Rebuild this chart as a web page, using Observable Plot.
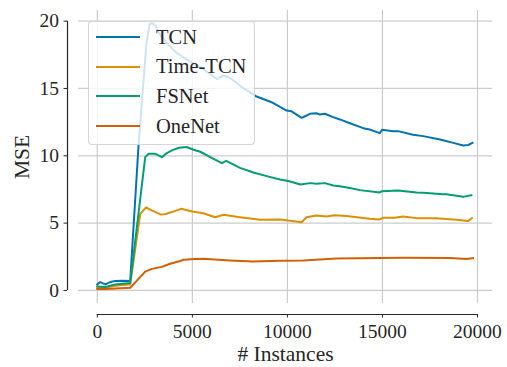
<!DOCTYPE html>
<html>
<head>
<meta charset="utf-8">
<script src="https://cdn.jsdelivr.net/npm/d3@7"></script>
<script src="https://cdn.jsdelivr.net/npm/@observablehq/plot@0.6"></script>
<style>
  html, body { margin: 0; padding: 0; background: #ffffff; }
  #chart { position: relative; width: 507px; height: 367px; font-family: "Liberation Serif", "Times New Roman", Tinos, Times, "DejaVu Serif", serif; }
  #chart svg text { font-family: "Liberation Serif", "Times New Roman", Tinos, Times, "DejaVu Serif", serif; }
  #legend {
    position: absolute; left: 88px; top: 21px; width: 167px; height: 124px;
    background: rgba(255,255,255,0.8); border: 1px solid rgba(204,204,204,0.8);
    border-radius: 4px; box-sizing: border-box;
  }
  .row { position: absolute; left: 0; height: 30px; display: flex; align-items: center; }
  .swatch { width: 44px; height: 0; border-top: 2px solid; margin-left: 7px; margin-right: 16px; }
  .name { font-size: 20.5px; color: #262626; line-height: 1; }
</style>
</head>
<body>
<div id="chart"></div>
<script>
// Online forecasting error (MSE) as the number of seen instances grows
const models = ["TCN", "Time-TCN", "FSNet", "OneNet"];
const colors = ["#0173b2", "#de8f05", "#029e73", "#d55e00"];

const tcnX = [0, 150, 420, 680, 940, 1300, 1730, 2170, 2580, 2750, 2900, 3050, 3300, 3700, 4200, 4900, 5500, 6000, 6300, 6600, 6900, 7200, 7700, 8380, 9170, 9960, 10220, 10750, 11010, 11180, 11530, 11710, 11970, 12410, 12760, 13290, 13990, 14330, 14860, 14980, 15560, 15820, 16610, 17140, 18030, 18730, 19250, 19510, 19740];
const tcnY = [0.45, 0.62, 0.45, 0.62, 0.7, 0.72, 0.7, 10.8, 18.3, 19.8, 19.85, 19.7, 19.0, 18.3, 17.6, 17.0, 16.5, 16.0, 15.7, 15.95, 15.85, 15.55, 15.0, 14.4, 13.98, 13.36, 13.3, 12.82, 12.99, 13.12, 13.16, 13.06, 13.12, 12.87, 12.7, 12.42, 12.05, 11.95, 11.68, 11.93, 11.83, 11.83, 11.56, 11.46, 11.21, 10.96, 10.76, 10.8, 10.96];

const timeTcnX = [0, 420, 940, 1300, 1730, 2260, 2560, 2870, 3350, 3600, 3920, 4400, 5000, 5580, 6200, 6630, 7510, 8560, 9610, 10750, 11010, 11530, 12060, 12490, 13110, 14330, 14860, 15040, 15650, 16090, 16790, 17840, 18890, 19500, 19710];
const timeTcnY = [0.2, 0.2, 0.35, 0.4, 0.45, 5.69, 6.16, 5.94, 5.63, 5.68, 5.82, 6.06, 5.86, 5.73, 5.44, 5.62, 5.44, 5.25, 5.27, 5.07, 5.44, 5.57, 5.49, 5.59, 5.52, 5.32, 5.27, 5.4, 5.4, 5.49, 5.37, 5.37, 5.25, 5.15, 5.37];

const fsnetX = [0, 420, 940, 1300, 1730, 2520, 2700, 3050, 3400, 3660, 3920, 4300, 4700, 5060, 5420, 5940, 6550, 6780, 7510, 8210, 8910, 9610, 10050, 10680, 11200, 11530, 11970, 12410, 12760, 13290, 13810, 14860, 14980, 15820, 16790, 17140, 18190, 18370, 19240, 19680];
const fsnetY = [0.3, 0.25, 0.45, 0.5, 0.55, 9.9, 10.15, 10.15, 9.9, 10.2, 10.4, 10.6, 10.65, 10.45, 10.3, 9.9, 9.45, 9.62, 9.1, 8.76, 8.49, 8.24, 8.13, 7.87, 7.97, 7.92, 7.97, 7.8, 7.74, 7.6, 7.45, 7.28, 7.37, 7.42, 7.27, 7.25, 7.14, 7.15, 6.95, 7.08];

const oneNetX = [0, 420, 940, 1730, 2520, 2870, 3390, 3830, 4360, 4530, 5150, 5580, 6980, 8210, 9610, 10840, 12580, 16090, 18560, 19420, 19760];
const oneNetY = [0.1, 0.1, 0.15, 0.2, 1.4, 1.6, 1.75, 1.98, 2.18, 2.28, 2.33, 2.35, 2.23, 2.15, 2.2, 2.23, 2.38, 2.43, 2.4, 2.33, 2.4];

const xTicks = [0, 5000, 10000, 15000, 20000];
const yTicks = [0, 5, 10, 15, 20];

const seriesX = [tcnX, timeTcnX, fsnetX, oneNetX];
const seriesY = [tcnY, timeTcnY, fsnetY, oneNetY];
const rows = models.flatMap((model, k) =>
  seriesX[k].map((x, i) => ({model, instances: x, mse: seriesY[k][i]})));

const xDomain = [-990, 20790];
const yDomain = [-0.97, 20.79];
const ink = "#262626";
const serif = "'Liberation Serif', 'Times New Roman', Tinos, Times, 'DejaVu Serif', serif";
const gridStyle = {stroke: "#cccccc", strokeOpacity: 1, strokeWidth: 1.2};

const chart = Plot.plot({
  width: 507,
  height: 367,
  marginLeft: 78,
  marginRight: 15,
  marginTop: 10,
  marginBottom: 64,
  style: {fontFamily: serif, background: "#ffffff", color: ink},
  x: {domain: xDomain},
  y: {domain: yDomain},
  color: {domain: models, range: colors},
  marks: [
    Plot.gridX(xTicks, gridStyle),
    Plot.gridY(yTicks, gridStyle),
    // detached, trimmed spines
    Plot.ruleX([xDomain[0]], {y1: yTicks[0], y2: yTicks[yTicks.length - 1], dx: -11, stroke: ink, strokeWidth: 1.2}),
    Plot.ruleY([yDomain[0]], {x1: xTicks[0], x2: xTicks[xTicks.length - 1], dy: 11, stroke: ink, strokeWidth: 1.2}),
    Plot.axisX(xTicks, {dy: 11, tickSize: 3.5, tickPadding: 6, fontSize: 19.5, fontFamily: serif, label: null, tickFormat: d => String(d), stroke: ink, fill: ink}),
    Plot.axisY(yTicks, {dx: -11, tickSize: 3.5, tickPadding: 5, fontSize: 19.5, fontFamily: serif, label: null, stroke: ink, fill: ink}),
    Plot.line(rows, {x: "instances", y: "mse", z: "model", stroke: "model", strokeWidth: 2, strokeLinejoin: "round", strokeLinecap: "square"}),
    Plot.text(["# Instances"], {frameAnchor: "bottom", textAnchor: "middle", lineAnchor: "middle", dy: 51, fontSize: 21.5, fontFamily: serif, fill: ink}),
    Plot.text(["MSE"], {frameAnchor: "left", textAnchor: "middle", lineAnchor: "middle", dx: -56, rotate: -90, fontSize: 21.5, fontFamily: serif, fill: ink})
  ]
});

const root = document.getElementById("chart");
root.appendChild(chart);

// legend box drawn over the plot
const legend = document.createElement("div");
legend.id = "legend";
models.forEach((m, i) => {
  const row = document.createElement("div");
  row.className = "row";
  row.style.top = (i * 29.6) + "px";
  const sw = document.createElement("div");
  sw.className = "swatch";
  sw.style.borderTopColor = colors[i];
  const label = document.createElement("div");
  label.className = "name";
  label.textContent = m;
  row.appendChild(sw);
  row.appendChild(label);
  legend.appendChild(row);
});
root.appendChild(legend);
</script>
</body>
</html>
